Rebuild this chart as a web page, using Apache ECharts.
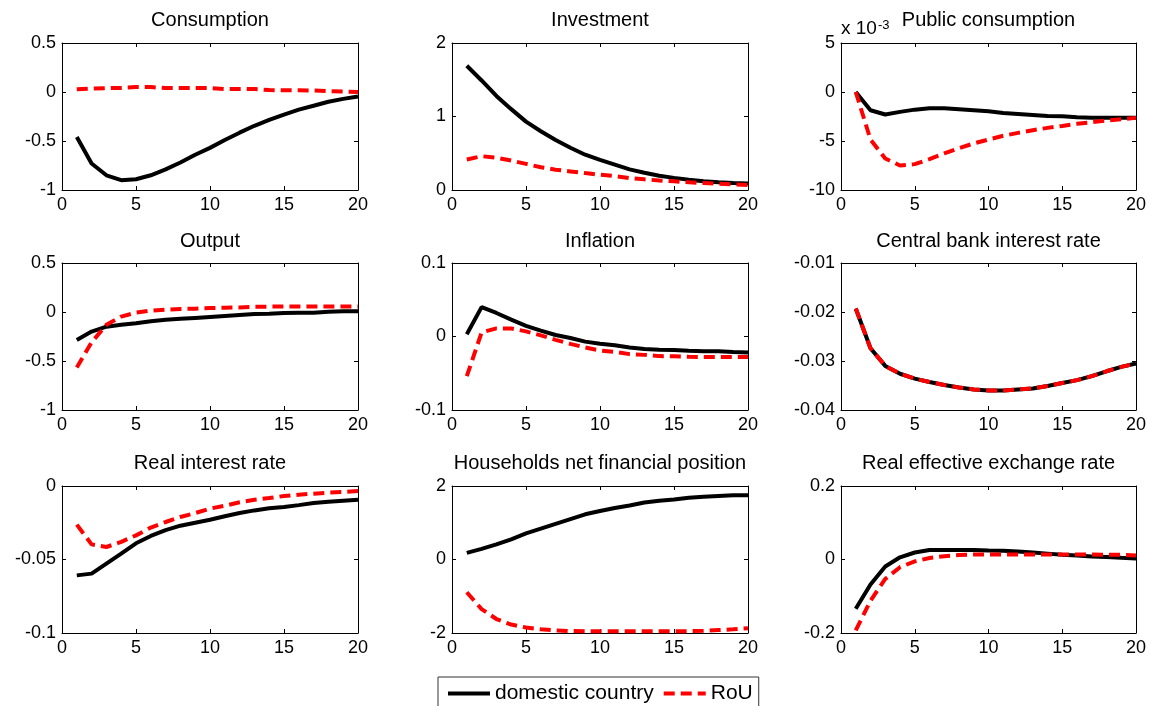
<!DOCTYPE html>
<html>
<head>
<meta charset="utf-8">
<script src="https://cdn.jsdelivr.net/npm/echarts@6/dist/echarts.min.js"></script>
<style>
html,body{margin:0;padding:0;background:#fff;}
#chart{width:1153px;height:706px;}
</style>
</head>
<body>
<div id="chart"></div>
<script>
// ---- data ----
const periods = [1,2,3,4,5,6,7,8,9,10,11,12,13,14,15,16,17,18,19,20];
const seriesNames = ['domestic country', 'RoU'];
const panelTitles = ['Consumption','Investment','Public consumption','Output','Inflation','Central bank interest rate','Real interest rate','Households net financial position','Real effective exchange rate'];

const consumptionDom = [-0.46,-0.73,-0.85,-0.90,-0.89,-0.85,-0.79,-0.72,-0.64,-0.57,-0.49,-0.415,-0.345,-0.285,-0.23,-0.18,-0.14,-0.10,-0.07,-0.045];
const consumptionRoU = [0.027,0.035,0.04,0.042,0.05,0.05,0.04,0.04,0.04,0.04,0.03,0.03,0.03,0.02,0.017,0.017,0.015,0.01,0.005,0.0];

const investmentDom = [1.69,1.49,1.28,1.10,0.93,0.80,0.68,0.575,0.48,0.41,0.345,0.28,0.235,0.195,0.165,0.14,0.12,0.105,0.095,0.09];
const investmentRoU = [0.415,0.46,0.44,0.40,0.355,0.31,0.276,0.253,0.23,0.208,0.19,0.163,0.145,0.13,0.118,0.104,0.095,0.086,0.077,0.068];

const publicConsDom = [0,-1.86e-3,-2.3e-3,-2.03e-3,-1.8e-3,-1.66e-3,-1.66e-3,-1.76e-3,-1.86e-3,-1.97e-3,-2.14e-3,-2.24e-3,-2.34e-3,-2.44e-3,-2.47e-3,-2.58e-3,-2.64e-3,-2.64e-3,-2.64e-3,-2.64e-3];
const publicConsRoU = [0,-4.85e-3,-6.78e-3,-7.5e-3,-7.36e-3,-6.85e-3,-6.27e-3,-5.73e-3,-5.25e-3,-4.85e-3,-4.47e-3,-4.17e-3,-3.9e-3,-3.66e-3,-3.46e-3,-3.25e-3,-3.08e-3,-2.92e-3,-2.78e-3,-2.64e-3];

const outputDom = [-0.285,-0.2,-0.15,-0.13,-0.115,-0.095,-0.08,-0.07,-0.06,-0.05,-0.04,-0.03,-0.02,-0.017,-0.01,-0.007,-0.007,0.003,0.007,0.007];
const outputRoU = [-0.566,-0.31,-0.13,-0.047,-0.007,0.014,0.024,0.03,0.034,0.04,0.044,0.047,0.054,0.055,0.055,0.055,0.056,0.056,0.056,0.056];

const inflationDom = [0.003,0.04,0.032,0.023,0.0145,0.008,0.002,-0.002,-0.007,-0.01,-0.012,-0.015,-0.017,-0.018,-0.0185,-0.0195,-0.02,-0.02,-0.021,-0.0217];
const inflationRoU = [-0.054,0.0055,0.011,0.011,0.007,0.0015,-0.0045,-0.01,-0.015,-0.019,-0.021,-0.024,-0.025,-0.0267,-0.027,-0.0276,-0.028,-0.028,-0.028,-0.028];

const cbRateDom = [-0.0193,-0.0274,-0.031,-0.0326,-0.0336,-0.0343,-0.0349,-0.0354,-0.0358,-0.036,-0.036,-0.0358,-0.0356,-0.0351,-0.0345,-0.0339,-0.0331,-0.0321,-0.0312,-0.0305];
const cbRateRoU = [-0.0193,-0.0274,-0.031,-0.0326,-0.0336,-0.0343,-0.0349,-0.0354,-0.0358,-0.036,-0.036,-0.0358,-0.0356,-0.0351,-0.0345,-0.0339,-0.0331,-0.0321,-0.0312,-0.0305];

const realRateDom = [-0.0608,-0.0596,-0.0528,-0.046,-0.039,-0.034,-0.030,-0.027,-0.025,-0.023,-0.0206,-0.0184,-0.0166,-0.0152,-0.0143,-0.013,-0.0116,-0.0107,-0.01,-0.0093];
const realRateRoU = [-0.0263,-0.0397,-0.0415,-0.038,-0.0336,-0.0283,-0.0245,-0.0211,-0.0184,-0.0154,-0.0134,-0.0111,-0.0093,-0.0082,-0.0068,-0.0059,-0.0052,-0.0045,-0.0041,-0.0034];

const householdsDom = [0.18,0.29,0.41,0.55,0.71,0.84,0.97,1.1,1.23,1.32,1.4,1.47,1.55,1.6,1.63,1.68,1.71,1.73,1.75,1.75];
const householdsRoU = [-0.89,-1.35,-1.62,-1.77,-1.85,-1.9,-1.93,-1.945,-1.955,-1.955,-1.955,-1.955,-1.955,-1.955,-1.955,-1.95,-1.94,-1.92,-1.9,-1.87];

const reerDom = [-0.134,-0.068,-0.019,0.006,0.019,0.026,0.026,0.026,0.026,0.0245,0.0236,0.022,0.019,0.016,0.013,0.011,0.008,0.007,0.0045,0.003];
const reerRoU = [-0.193,-0.112,-0.053,-0.021,-0.005,0.004,0.009,0.012,0.0136,0.0136,0.0136,0.0136,0.0136,0.0136,0.0136,0.0136,0.0136,0.013,0.013,0.011];

// y axis ranges [min, max, interval] per panel
const yRanges = [[-1,0.5,0.5],[0,2,1],[-0.01,0.005,0.005],[-1,0.5,0.5],[-0.1,0.1,0.1],[-0.04,-0.01,0.01],[-0.1,0,0.05],[-2,2,2],[-0.2,0.2,0.2]];
const xTicks = [0, 20, 5];

const panelData = [
  [consumptionDom, consumptionRoU],
  [investmentDom, investmentRoU],
  [publicConsDom, publicConsRoU],
  [outputDom, outputRoU],
  [inflationDom, inflationRoU],
  [cbRateDom, cbRateRoU],
  [realRateDom, realRateRoU],
  [householdsDom, householdsRoU],
  [reerDom, reerRoU]
];

// ---- layout ----
const colLeft = [62, 452, 841];
const colWidth = [296, 296, 295];
const rowTop = [43, 263, 486];
const rowHeight = 147;
const titleTop = [10, 231, 453];
const FONT = '"Liberation Sans", Arial, Helvetica, sans-serif';

const grids = [], xAxes = [], yAxes = [], titles = [], series = [];
function fmt(v, i) {
  if (i === 2) return String(Math.round(v * 1000));
  return String(parseFloat(v.toPrecision(8)));
}
for (let i = 0; i < 9; i++) {
  const r = Math.floor(i / 3), c = i % 3;
  grids.push({left: colLeft[c], top: rowTop[r], width: colWidth[c], height: rowHeight, containLabel: false});
  const lineS = {show: true, onZero: false, lineStyle: {color: '#000', width: 1}};
  const tickS = {show: true, inside: true, length: 4, lineStyle: {color: '#000', width: 1}};
  xAxes.push({type: 'value', gridIndex: i, min: xTicks[0], max: xTicks[1], interval: xTicks[2], position: 'bottom',
    axisLine: lineS, axisTick: tickS, splitLine: {show: false},
    axisLabel: {color: '#000', fontSize: 18, fontFamily: FONT, margin: 6}});
  xAxes.push({type: 'value', gridIndex: i, min: xTicks[0], max: xTicks[1], interval: xTicks[2], position: 'top',
    axisLine: lineS, axisTick: tickS, splitLine: {show: false}, axisLabel: {show: false}});
  const yr = yRanges[i];
  yAxes.push({type: 'value', gridIndex: i, min: yr[0], max: yr[1], interval: yr[2], position: 'left',
    axisLine: lineS, axisTick: tickS, splitLine: {show: false},
    axisLabel: {color: '#000', fontSize: 18, fontFamily: FONT, margin: 6, formatter: (v) => fmt(v, i)}});
  yAxes.push({type: 'value', gridIndex: i, min: yr[0], max: yr[1], interval: yr[2], position: 'right',
    axisLine: lineS, axisTick: tickS, splitLine: {show: false}, axisLabel: {show: false}});
  titles.push({text: panelTitles[i], left: colLeft[c] + colWidth[c] / 2, top: titleTop[r], textAlign: 'center', padding: 0,
    textStyle: {fontSize: 20, fontWeight: 'normal', color: '#000', fontFamily: FONT}});
  const d = panelData[i];
  series.push({name: seriesNames[0], type: 'line', xAxisIndex: 2 * i, yAxisIndex: 2 * i, symbol: 'none', showSymbol: false,
    data: periods.map((p, k) => [p, d[0][k]]), lineStyle: {color: '#000', width: 4}, itemStyle: {color: '#000'}, z: 2});
  series.push({name: seriesNames[1], type: 'line', xAxisIndex: 2 * i, yAxisIndex: 2 * i, symbol: 'none', showSymbol: false,
    data: periods.map((p, k) => [p, d[1][k]]), lineStyle: {color: '#ff0000', width: 4, type: [11, 6]}, itemStyle: {color: '#ff0000'}, z: 3});
}
// exponent label for Public consumption
titles.push({text: '{a|x 10}{b|-3}', left: 841, top: 19, padding: 0,
  textStyle: {fontFamily: FONT, color: '#000', fontWeight: 'normal', fontSize: 19,
    rich: {a: {fontSize: 19, fontWeight: 'normal', fontFamily: FONT, color: '#000', verticalAlign: 'bottom'},
           b: {fontSize: 13, fontWeight: 'normal', fontFamily: FONT, color: '#000', verticalAlign: 'top', padding: [0, 0, 0, 1]}}}});

const chart = echarts.init(document.getElementById('chart'), null, {renderer: 'canvas'});
chart.setOption({
  animation: false,
  backgroundColor: '#fff',
  title: titles,
  grid: grids,
  xAxis: xAxes,
  yAxis: yAxes,
  legend: {
    data: seriesNames, left: 438, top: 677, orient: 'horizontal',
    padding: [6, 6, 12, 8], itemGap: 8, itemWidth: 42, itemHeight: 14,
    borderColor: '#333', borderWidth: 1, backgroundColor: '#fff',
    itemStyle: {opacity: 0},
    lineStyle: {width: 4},
    textStyle: {fontSize: 21, color: '#000', fontFamily: FONT},
    selectedMode: false
  },
  series: series
});
</script>
</body>
</html>
